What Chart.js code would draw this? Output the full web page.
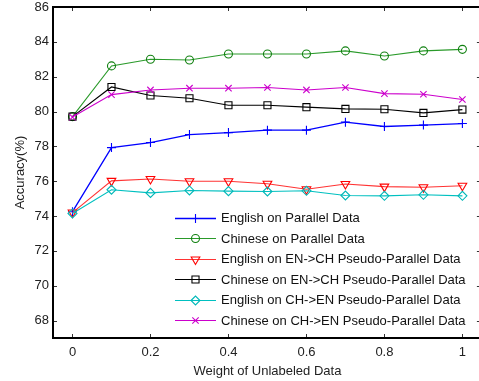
<!DOCTYPE html>
<html>
<head>
<meta charset="utf-8">
<script src="https://cdn.jsdelivr.net/npm/chart.js@4/dist/chart.umd.min.js"></script>
<style>
html,body{margin:0;padding:0;background:#fff;overflow:hidden;}
#wrap{width:488px;height:381px;}
</style>
</head>
<body>
<div id="wrap"><canvas id="c" width="488" height="381"></canvas></div>
<script>
// ---- data ----
const weights = [0, 0.1, 0.2, 0.3, 0.4, 0.5, 0.6, 0.7, 0.8, 0.9, 1.0];
const englishParallel = [74.25, 77.93, 78.22, 78.68, 78.79, 78.93, 78.93, 79.39, 79.14, 79.22, 79.31];
const chineseParallel = [79.71, 82.62, 83.0, 82.96, 83.3, 83.3, 83.3, 83.48, 83.19, 83.48, 83.57];
const englishEnCh = [74.2, 76.02, 76.13, 76.0, 76.0, 75.85, 75.54, 75.84, 75.69, 75.65, 75.74];
const chineseEnCh = [79.71, 81.41, 80.92, 80.76, 80.36, 80.36, 80.25, 80.15, 80.13, 79.92, 80.11];
const englishChEn = [74.15, 75.51, 75.33, 75.47, 75.43, 75.41, 75.45, 75.18, 75.16, 75.22, 75.16];
const chineseChEn = [79.68, 80.97, 81.24, 81.34, 81.34, 81.38, 81.24, 81.38, 81.03, 80.99, 80.69];
const seriesNames = [
  'English on Parallel Data',
  'Chinese on Parallel Data',
  'English on EN->CH Pseudo-Parallel Data',
  'Chinese on EN->CH Pseudo-Parallel Data',
  'English on CH->EN Pseudo-Parallel Data',
  'Chinese on CH->EN Pseudo-Parallel Data'
];
const xTickValues = [0, 0.2, 0.4, 0.6, 0.8, 1];
const yTickValues = [68, 70, 72, 74, 76, 78, 80, 82, 84, 86];
const xTitle = 'Weight of Unlabeled Data';
const yTitle = 'Accuracy(%)';

// ---- styles ----
const seriesValues = [englishParallel, chineseParallel, englishEnCh, chineseEnCh, englishChEn, chineseChEn];
const lineColors = ['#0000ff', '#2a9a2a', '#ff3333', '#000000', '#00c0c0', '#cc00cc'];
const markerColors = ['#0000ff', '#108010', '#ff0000', '#000000', '#00b8b8', '#cc00cc'];
const styles = ['cross', 'circle', 'triangle', 'rect', 'rectRot', 'crossRot'];
const rotations = [0, 0, 180, 0, 0, 0];
const radii = [4.5, 4, 5, 5, 4.5, 4.5];
const FONT = '"Liberation Sans", Arial, sans-serif';

const datasets = seriesValues.map((vals, i) => ({
  label: seriesNames[i],
  data: weights.map((w, k) => ({x: w, y: vals[k]})),
  borderColor: lineColors[i],
  borderWidth: i === 0 ? 1.3 : 1.1,
  pointStyle: styles[i],
  pointRotation: rotations[i],
  pointRadius: radii[i],
  pointBorderColor: markerColors[i],
  pointBackgroundColor: 'rgba(0,0,0,0)',
  pointBorderWidth: 1.1,
  fill: false,
  tension: 0,
  order: 5 - i
}));

const framePlugin = {
  id: 'frame',
  afterDraw(chart) {
    const ctx = chart.ctx;
    const a = chart.chartArea;
    const xs = chart.scales.x, ys = chart.scales.y;
    ctx.save();
    // inward tick marks
    ctx.strokeStyle = '#333';
    ctx.lineWidth = 1;
    ctx.beginPath();
    xTickValues.forEach(v => {
      const px = Math.round(xs.getPixelForValue(v)) + 0.5;
      ctx.moveTo(px, a.bottom); ctx.lineTo(px, a.bottom - 4);
      ctx.moveTo(px, a.top); ctx.lineTo(px, a.top + 4);
    });
    yTickValues.forEach(v => {
      const py = Math.round(ys.getPixelForValue(v)) + 0.5;
      ctx.moveTo(a.left, py); ctx.lineTo(a.left + 4, py);
      ctx.moveTo(a.right, py); ctx.lineTo(a.right - 5, py);
    });
    ctx.stroke();
    // frame
    ctx.strokeStyle = '#000';
    ctx.lineWidth = 2;
    ctx.strokeRect(a.left, a.top, a.right - a.left, a.bottom - a.top);

    // legend
    const lx0 = a.left + 122, lx1 = a.left + 163, mx = a.left + 142.5, tx = a.left + 168;
    const ly0 = a.top + 210.5, dy = 20.5;
    ctx.font = '13px ' + FONT;
    ctx.textBaseline = 'middle';
    ctx.textAlign = 'left';
    datasets.forEach((d, i) => {
      const y = ly0 + i * dy;
      ctx.strokeStyle = lineColors[i];
      ctx.lineWidth = d.borderWidth;
      ctx.beginPath();
      ctx.moveTo(lx0, Math.round(y) + 0.5); ctx.lineTo(lx1, Math.round(y) + 0.5);
      ctx.stroke();
      ctx.strokeStyle = markerColors[i];
      ctx.fillStyle = 'rgba(0,0,0,0)';
      ctx.lineWidth = 1.1;
      Chart.helpers.drawPoint(ctx, {pointStyle: styles[i], rotation: rotations[i], radius: radii[i], borderWidth: 1.1}, mx, Math.round(y) + 0.5);
      ctx.fillStyle = '#111';
      ctx.fillText(seriesNames[i], tx, y + 1);
    });
    ctx.restore();
  }
};

new Chart(document.getElementById('c'), {
  type: 'line',
  data: {datasets},
  options: {
    responsive: false,
    animation: false,
    devicePixelRatio: 1,
    layout: {padding: {top: 7, right: 2, left: 0, bottom: 0}},
    plugins: {legend: {display: false}, tooltip: {enabled: false}},
    scales: {
      x: {
        type: 'linear',
        min: -0.05, max: 1.05,
        afterBuildTicks: s => { s.ticks = xTickValues.map(v => ({value: v})); },
        afterFit: s => { s.height = 43; s.paddingLeft = 0; s.paddingRight = 0; },
        grid: {display: false, drawTicks: false},
        border: {display: false},
        ticks: {
          padding: 7,
          color: '#222',
          font: {family: FONT, size: 13, lineHeight: 1.2},
          maxRotation: 0,
          callback: v => String(v)
        },
        title: {display: true, text: xTitle, color: '#222', font: {family: FONT, size: 13, lineHeight: 1.2}, padding: {top: 0, bottom: 2}}
      },
      y: {
        type: 'linear',
        min: 67, max: 86,
        afterBuildTicks: s => { s.ticks = yTickValues.map(v => ({value: v})); },
        afterFit: s => { s.width = 53; s.paddingTop = 0; s.paddingBottom = 0; },
        grid: {display: false, drawTicks: false},
        border: {display: false},
        ticks: {
          padding: 4,
          color: '#222',
          font: {family: FONT, size: 13, lineHeight: 1.0},
          callback: v => String(v)
        },
        title: {display: true, text: yTitle, color: '#222', font: {family: FONT, size: 13, lineHeight: 1.2}, padding: {top: 13, bottom: 0}}
      }
    }
  },
  plugins: [framePlugin]
});
</script>
</body>
</html>
